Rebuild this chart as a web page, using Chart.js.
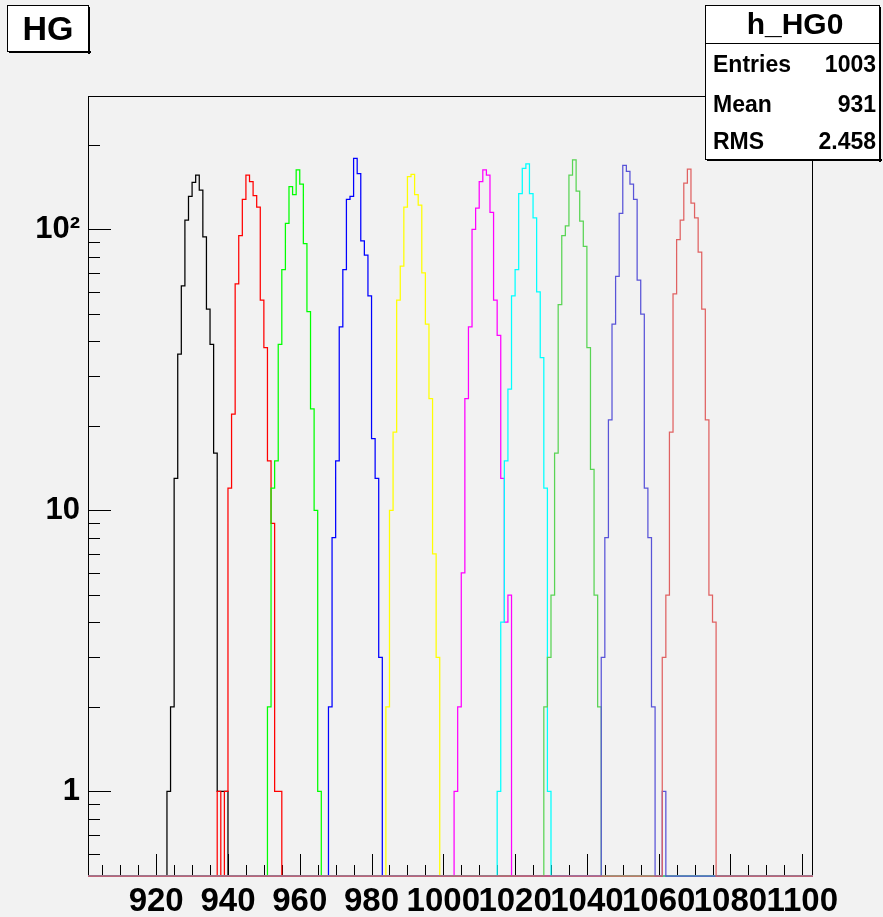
<!DOCTYPE html>
<html>
<head>
<meta charset="utf-8">
<title>HG</title>
<script src="https://cdn.jsdelivr.net/npm/chart.js@4.4.1/dist/chart.umd.min.js"></script>
<style>
  html, body { margin: 0; padding: 0; background: #f2f2f2; }
  #wrap { width: 883px; height: 917px; }
</style>
</head>
<body>
<div id="wrap"><canvas id="hg" width="883" height="917"></canvas></div>
<script>
'use strict';

// axis ranges (x in channel units, 1-unit bins; y log)
const xMin = 901, xMax = 1103;
const yMin = 0.5, yMax = 296;

// tick labels
const xTickValues = [920, 940, 960, 980, 1000, 1020, 1040, 1060, 1080, 1100];
const yTickValues = [1, 10, 100];
const yTickLabels = ['1', '10', '10\u00B2'];

// first bin of each histogram, then the counts per bin
const startBins = [923, 937, 951, 968, 984, 1003, 1015, 1028, 1044, 1061];
const hBlack   = [1, 2, 13, 36, 63, 108, 131, 147, 156, 138, 94, 52, 39, 16, 1, 1, 1];
const hRed     = [1, 0, 1, 12, 22, 64, 95, 128, 156, 148, 132, 120, 56, 38, 15, 9, 1, 1];
const hGreen   = [2, 12, 15, 39, 72, 105, 142, 133, 163, 145, 89, 51, 23, 10, 1];
const hBlue    = [2, 8, 15, 45, 72, 128, 131, 179, 158, 91, 81, 58, 18, 13, 3];
const hYellow  = [2, 10, 19, 56, 74, 120, 154, 157, 133, 122, 70, 46, 25, 7, 3];
const hMagenta = [1, 2, 6, 25, 45, 100, 119, 148, 163, 156, 115, 56, 42, 13, 4, 5];
const hCyan    = [1, 4, 15, 27, 58, 72, 134, 165, 171, 134, 110, 60, 35, 12, 1];
const hGreen2  = [2, 3, 5, 16, 54, 95, 103, 156, 177, 137, 107, 87, 38, 14, 5, 2];
const hBlue2   = [3, 8, 21, 46, 68, 114, 169, 161, 145, 128, 66, 50, 12, 8, 2, 0, 0, 1];
const hRed2    = [3, 5, 19, 59, 92, 108, 146, 164, 124, 110, 83, 52, 21, 5, 4];

const histCounts = [hBlack, hRed, hGreen, hBlue, hYellow, hMagenta, hCyan, hGreen2, hBlue2, hRed2];
const histColors = ['#000000', '#ff0000', '#00ff00', '#0000ff', '#ffff00',
                    '#ff00ff', '#00ffff', '#59d454', '#5954d8', '#e06262'];

// stats box
const statsTitle = 'h_HG0';
const statsNames = ['Entries', 'Mean', 'RMS'];
const statsValues = ['1003', '931', '2.458'];
const plotTitle = 'HG';

const FONT = "'Liberation Sans', Arial, Helvetica, sans-serif";

// one point per bin low edge over the full range; empty bins sit on the frame bottom
function histPoints(start, counts){
  const pts = [];
  for (let b = xMin; b < xMax; b++) {
    const i = b - start;
    const v = (i >= 0 && i < counts.length) ? counts[i] : 0;
    pts.push({ x: b, y: v > 0 ? v : yMin });
  }
  pts.push({ x: xMax, y: pts[pts.length - 1].y });
  return pts;
}

// ROOT-like frame with inward ticks, drawn under the histograms
const rootFrame = {
  id: 'rootFrame',
  beforeDraw(chart){
    const { ctx } = chart;
    ctx.save();
    ctx.fillStyle = '#f2f2f2';
    ctx.fillRect(0, 0, chart.width, chart.height);
    ctx.restore();
  },
  beforeDatasetsDraw(chart){
    const { ctx, chartArea: a, scales } = chart;
    ctx.save();
    ctx.strokeStyle = '#000';
    ctx.lineWidth = 1;
    ctx.strokeRect(a.left + 0.5, a.top - 0.5, a.right - a.left - 1, a.bottom - a.top);

    ctx.beginPath();
    // x ticks every 5, major every 20
    for (let v = 905; v <= 1100; v += 5) {
      const px = Math.round(scales.x.getPixelForValue(v)) + 0.5;
      const len = v % 20 === 0 ? 22 : 11;
      ctx.moveTo(px, a.bottom);
      ctx.lineTo(px, a.bottom - len);
    }
    // y ticks: 1..9 per decade
    [0.1, 1, 10, 100].forEach(d => {
      for (let k = 1; k <= 9; k++) {
        const v = k * d;
        if (v < yMin || v > yMax) continue;
        const py = Math.round(scales.y.getPixelForValue(v)) + 0.5;
        const len = k === 1 ? 23 : 12;
        ctx.moveTo(a.left, py);
        ctx.lineTo(a.left + len, py);
      }
    });
    ctx.stroke();
    ctx.restore();
  },
  afterDraw(chart){
    const { ctx } = chart;
    ctx.save();

    function pave(x1, y1, x2, y2){
      ctx.fillStyle = '#ffffff';
      ctx.fillRect(x1, y1, x2 - x1, y2 - y1);
      ctx.strokeStyle = '#000';
      ctx.lineWidth = 1;
      ctx.strokeRect(x1 + 0.5, y1 + 0.5, x2 - x1 - 1, y2 - y1 - 1);
      // shadow on right and bottom
      ctx.fillStyle = '#000';
      ctx.fillRect(x2 - 1, y1 + 2, 2, y2 - y1);
      ctx.fillRect(x1 + 2, y2 - 1, x2 - x1, 2);
    }

    // title pave
    pave(7, 5, 89, 52);
    ctx.fillStyle = '#000';
    ctx.font = 'bold 34px ' + FONT;
    ctx.textAlign = 'center';
    ctx.textBaseline = 'alphabetic';
    ctx.fillText(plotTitle, 48, 40);

    // stats pave
    pave(705, 5, 880, 160);
    ctx.fillStyle = '#000';
    ctx.fillRect(705, 43, 175, 1);
    ctx.font = 'bold 30px ' + FONT;
    ctx.textAlign = 'center';
    ctx.fillText(statsTitle, 795, 34);

    ctx.font = 'bold 23px ' + FONT;
    const rowBase = [72, 112, 149];
    statsNames.forEach((n, i) => {
      ctx.textAlign = 'left';
      ctx.fillText(n, 713, rowBase[i]);
      ctx.textAlign = 'right';
      ctx.fillText(statsValues[i], 876, rowBase[i]);
    });
    ctx.restore();
  }
};

const datasets = histCounts.map((counts, i) => ({
  data: histPoints(startBins[i], counts),
  borderColor: histColors[i],
  borderWidth: 1.25,
  pointRadius: 0,
  stepped: true,
  fill: false,
  clip: 3,
  order: histCounts.length - i
}));

new Chart(document.getElementById('hg'), {
  type: 'line',
  data: { datasets },
  options: {
    responsive: false,
    animation: false,
    events: [],
    layout: { padding: { left: 0, top: 97, right: 70, bottom: 0 } },
    plugins: { legend: { display: false }, tooltip: { enabled: false } },
    scales: {
      x: {
        type: 'linear', min: xMin, max: xMax,
        grid: { display: false, drawTicks: false },
        border: { display: false },
        ticks: {
          color: '#000', padding: 6, autoSkip: false, maxRotation: 0,
          font: { family: FONT, size: 33, weight: 'bold' },
          callback: (v) => String(v)
        },
        afterBuildTicks: (s) => { s.ticks = xTickValues.map(v => ({ value: v })); },
        afterFit: (s) => { s.height = 41; }
      },
      y: {
        type: 'logarithmic', min: yMin, max: yMax,
        grid: { display: false, drawTicks: false },
        border: { display: false },
        ticks: {
          color: '#000', padding: 8, autoSkip: false,
          font: { family: FONT, size: 31, weight: 'bold' },
          callback: (v, i) => yTickLabels[i]
        },
        afterBuildTicks: (s) => { s.ticks = yTickValues.map(v => ({ value: v })); },
        afterFit: (s) => { s.width = 88; }
      }
    }
  },
  plugins: [rootFrame]
});
</script>
</body>
</html>
